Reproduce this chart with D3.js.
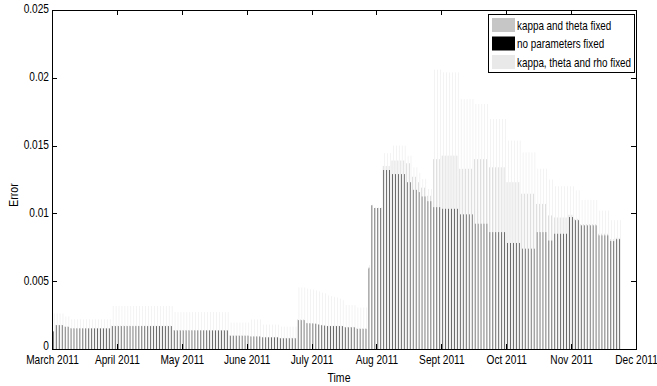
<!DOCTYPE html>
<html><head><meta charset="utf-8">
<script src="https://cdn.jsdelivr.net/npm/d3@7/dist/d3.min.js"></script>
<style>
body{margin:0;background:#fff;}
text{font-family:"Liberation Sans",Arial,Helvetica,sans-serif;fill:#000;}
</style>
</head><body>
<svg id="c" width="657" height="386"></svg>
<script>
// ---------------- data ----------------
const seriesNames = ["kappa and theta fixed", "no parameters fixed", "kappa, theta and rho fixed"];
const seriesColors = ["#c6c6c6", "#000000", "#e9e9e9"];
const monthLabels = ["March 2011","April 2011","May 2011","June 2011","July 2011","Aug 2011","Sept 2011","Oct 2011","Nov 2011","Dec 2011"];
const yTickValues = [0, 0.005, 0.01, 0.015, 0.02, 0.025];
const yTickLabels = ["0", "0.005", "0.01", "0.015", "0.02", "0.025"];

// daily error values (one per trading day, March 1 - late Nov 2011)
const kappaThetaFixed = [
 .00134,
 .00178,.00178,.00178,
 .00166,.00166,
 .00154,.00154,.00154,.00154,.00154,.00154,.00154,.00154,.00154,.00154,.00154,.00154,.00154,.00154,
 .00172,.00172,.00172,.00172,.00172,.00172,.00172,.00172,.00172,.00172,.00172,.00172,.00172,.00172,.00172,.00172,.00172,.00172,.00172,.00172,.00172,
 .00140,.00140,.00140,.00140,.00140,.00140,.00140,.00140,.00140,.00140,.00140,.00140,.00140,.00140,.00140,.00140,.00140,.00140,.00140,
 .00100,.00100,.00100,.00100,.00100,.00100,.00100,
 .00095,.00095,.00095,.00095,
 .00089,.00089,.00089,.00089,.00089,.00089,
 .00082,.00082,.00082,.00082,.00082,.00082,
 .00218,.00218,.00218,
 .00193,.00192,.00191,.00189,.00183,.00178,.00175,
 .00172,.00172,.00172,.00172,.00172,.00172,
 .00163,.00163,.00163,.00163,
 .00152,.00152,.00152,.00152,
 .00590,
 .01060,.01040,.01040,.01040,
 .01350,.01350,.01350,
 .01390,.01390,.01390,.01390,.01390,
 .01370,.01370,
 .01270,.01270,
 .01230,
 .01190,.01190,
 .01130,.01130,
 .01400,.01400,.01400,
 .01426,.01426,.01426,.01426,.01426,.01426,
 .01329,.01329,.01329,.01329,.01329,
 .01400,.01400,.01400,.01400,.01400,
 .01340,.01340,.01340,.01340,.01340,.01340,
 .01230,.01230,.01230,.01230,.01230,
 .01145,.01145,.01145,.01145,.01145,
 .01070,.01070,.01070,.01070,
 .00985,.00985,
 .00970,.00970,.00970,.00970,.00970,
 .00990,.00990,
 .00960,.00960,
 .00920,.00920,.00920,.00920,.00920,.00920,
 .00850,.00850,.00850,.00850,
 .00810,.00810,
 .00820,.00820
];
const noParamsFixed = [
 .00130,
 .00176,.00176,.00176,
 .00164,.00164,
 .00152,.00152,.00152,.00152,.00152,.00152,.00152,.00152,.00152,.00152,.00152,.00152,.00152,.00152,
 .00169,.00169,.00169,.00169,.00169,.00169,.00169,.00169,.00169,.00169,.00169,.00169,.00169,.00169,.00169,.00169,.00169,.00169,.00169,.00169,.00169,
 .00137,.00137,.00137,.00137,.00137,.00137,.00137,.00137,.00137,.00137,.00137,.00137,.00137,.00137,.00137,.00137,.00137,.00137,.00137,
 .00098,.00098,.00098,.00098,.00098,.00098,.00098,
 .00092,.00092,.00092,.00092,
 .00086,.00086,.00086,.00086,.00086,.00086,
 .00079,.00079,.00079,.00079,.00079,.00079,
 .00213,.00213,.00213,
 .00190,.00189,.00188,.00186,.00180,.00175,.00172,
 .00169,.00169,.00169,.00169,.00169,.00169,
 .00160,.00160,.00160,.00160,
 .00149,.00149,.00149,.00149,
 .00600,
 .01060,.01040,.01040,.01040,
 .01320,.01320,.01320,
 .01290,.01290,.01290,.01290,.01290,
 .01230,.01230,
 .01174,.01174,
 .01157,
 .01125,.01125,
 .01090,.01090,
 .01046,.01046,.01046,
 .01034,.01034,.01034,.01034,.01034,.01034,
 .00993,.00993,.00993,.00993,.00993,
 .00924,.00924,.00924,.00924,.00924,
 .00862,.00862,.00862,.00862,.00862,.00862,
 .00782,.00782,.00782,.00782,.00782,
 .00740,.00740,.00740,.00740,.00740,
 .00862,.00862,.00862,.00862,
 .00800,.00800,
 .00850,.00850,.00850,.00850,.00850,
 .00973,.00973,
 .00950,.00950,
 .00912,.00912,.00912,.00912,.00912,.00912,
 .00838,.00838,.00838,.00838,
 .00796,.00796,
 .00810,.00810
];
const kappaThetaRhoFixed = [
 .00262,
 .00262,.00262,.00262,
 .00240,.00240,
 .00219,.00219,.00219,.00219,.00219,.00219,.00219,.00219,.00219,.00219,.00219,.00219,.00219,.00219,
 .00317,.00317,.00317,.00317,.00317,.00317,.00317,.00317,.00317,.00317,.00317,.00317,.00317,.00317,.00317,.00317,.00317,.00317,.00317,.00317,.00317,
 .00272,.00272,.00272,.00272,.00272,.00272,.00272,.00272,.00272,.00272,.00272,.00272,.00272,.00272,.00272,.00272,.00272,.00272,.00272,
 .00195,.00195,.00195,.00195,.00195,.00195,.00195,
 .00218,.00218,.00218,.00218,
 .00180,.00180,.00180,.00180,.00180,.00180,
 .00165,.00165,.00165,.00165,.00165,.00165,
 .00454,.00454,.00454,
 .00446,.00440,.00438,.00432,.00425,.00415,.00410,
 .00395,.00390,.00385,.00380,.00372,.00360,
 .00324,.00324,.00324,.00324,
 .00306,.00306,.00306,.00306,
 .00620,
 .01065,.01045,.01045,.01045,
 .01444,.01444,.01444,
 .01500,.01500,.01500,.01500,.01500,
 .01426,.01426,
 .01340,.01340,
 .01300,
 .01255,.01255,
 .01180,.01180,
 .02060,.02060,.02060,
 .02040,.02040,.02040,.02040,.02040,.02040,
 .01843,.01843,.01843,.01843,.01843,
 .01807,.01807,.01807,.01807,.01807,
 .01696,.01696,.01696,.01696,.01696,.01696,
 .01537,.01537,.01537,.01537,.01537,
 .01450,.01450,.01450,.01450,.01450,
 .01330,.01330,.01330,.01330,
 .01250,.01250,
 .01200,.01200,.01200,.01200,.01200,
 .01200,.01200,
 .01170,.01170,
 .01100,.01100,.01100,.01100,.01100,.01100,
 .01020,.01020,.01020,.01020,
 .00950,.00950,
 .00950,.00950
];

// ---------------- chart ----------------
const svg = d3.select("#c");
const L = 52, R = 636, T = 10, B = 349;
const nSlots = 198;                      // axis span in trading-day units
const tickEvery = 22;                    // month ticks, equally spaced
const xTickValues = monthLabels.map((_, i) => i * tickEvery);

const x = d3.scaleLinear().domain([0, nSlots]).range([L, R]);
const y = d3.scaleLinear().domain([0, 0.025]).range([B, T]);

const series = [kappaThetaFixed, noParamsFixed, kappaThetaRhoFixed];
const groupW = 0.667, slot = groupW / 3, barW = slot * 0.85;

series.forEach((arr, k) => {
  svg.append("g").selectAll("rect").data(arr).join("rect")
    .attr("x", (d, i) => x(i + 0.5 + (k - 1) * slot - barW / 2))
    .attr("width", x(barW) - x(0))
    .attr("y", d => y(d))
    .attr("height", d => y(0) - y(d))
    .attr("fill", seriesColors[k]);
});

// axes (MATLAB style: inward ticks, box)
const cond = 0.78;
const gx = svg.append("g").attr("transform", `translate(0,${B})`)
  .call(d3.axisBottom(x).tickValues(xTickValues).tickFormat((d, i) => monthLabels[i]).tickSize(-5).tickSizeOuter(0));
gx.selectAll("text").attr("y", 0).attr("dy", null).attr("font-size", 13)
  .attr("transform", `translate(0,15) scale(${cond},1)`);

const gt = svg.append("g").attr("transform", `translate(0,${T})`)
  .call(d3.axisTop(x).tickValues(xTickValues).tickFormat("").tickSize(-5).tickSizeOuter(0));

const gy = svg.append("g").attr("transform", `translate(${L},0)`)
  .call(d3.axisLeft(y).tickValues(yTickValues).tickFormat((d, i) => yTickLabels[i]).tickSize(-5).tickSizeOuter(0));
gy.selectAll("text").attr("x", 0).attr("dy", "0.3em").attr("font-size", 13)
  .attr("transform", (d, i) => `translate(-3,${i === 0 ? -3 : -1}) scale(${cond},1)`);

const gr = svg.append("g").attr("transform", `translate(${R},0)`)
  .call(d3.axisRight(y).tickValues(yTickValues).tickFormat("").tickSize(-5).tickSizeOuter(0));

[gx, gt, gy, gr].forEach(g => {
  g.select(".domain").remove();
  g.selectAll("line").attr("stroke", "#000").attr("shape-rendering", "crispEdges");
});

svg.append("rect").attr("x", L).attr("y", T).attr("width", R - L).attr("height", B - T)
  .attr("fill", "none").attr("stroke", "#000").attr("stroke-width", 1).attr("shape-rendering", "crispEdges");

// axis titles
svg.append("text").attr("transform", `translate(339,382) scale(${cond},1)`)
  .attr("text-anchor", "middle").attr("font-size", 13.5).text("Time");
svg.append("text").attr("transform", `translate(18,195) rotate(-90) scale(${cond},1)`)
  .attr("text-anchor", "middle").attr("font-size", 13.5).text("Error");

// legend
const lg = svg.append("g");
lg.append("rect").attr("x", 488).attr("y", 14).attr("width", 146).attr("height", 58)
  .attr("fill", "#fff").attr("stroke", "#000").attr("stroke-width", 1).attr("shape-rendering", "crispEdges");
seriesNames.forEach((name, k) => {
  const yy = 18 + k * 18.5;
  lg.append("rect").attr("x", 492).attr("y", yy).attr("width", 23).attr("height", 14).attr("fill", seriesColors[k]);
  lg.append("text").attr("transform", `translate(517,${yy + 11.5}) scale(0.79,1)`)
    .attr("font-size", 12.5).text(name);
});
</script>
</body></html>
